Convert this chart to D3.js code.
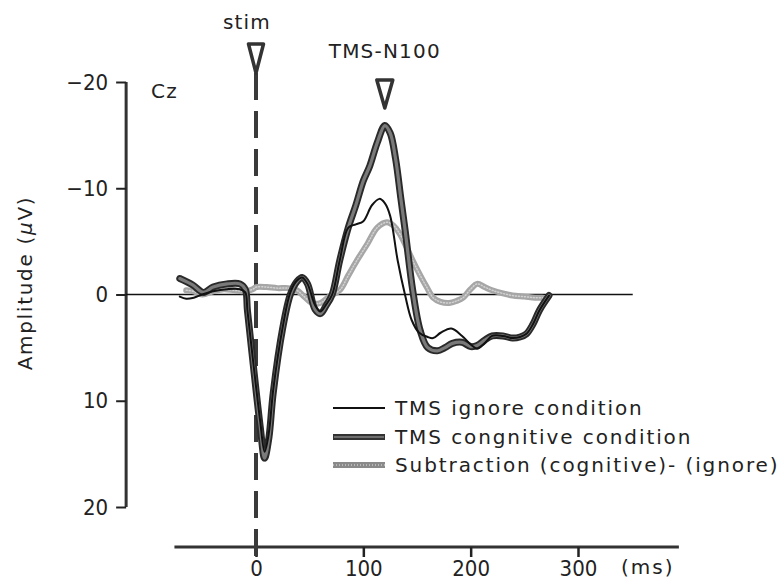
<!DOCTYPE html>
<html>
<head>
<meta charset="utf-8">
<script src="https://cdn.jsdelivr.net/npm/d3@7"></script>
<style>
  body { margin: 0; background: #fff; }
  svg text { fill: #222; }
  .num { font-family: "Liberation Sans Narrow", "DejaVu Sans Condensed", sans-serif; font-size: 22px; }
  .lbl { font-family: "DejaVu Sans", "Liberation Sans", sans-serif; font-size: 20px; letter-spacing: 1.2px; }
  .leg { letter-spacing: 1.9px; }
</style>
</head>
<body>
<div id="chart"></div>
<script>
// time in ms, amplitude in microvolts (negative drawn upward)
const cognitiveTime = [-71, -59, -49, -40, -27, -15, -10, -8, -3, 4, 8, 12, 16, 25, 32, 38, 43, 48, 55, 60, 65, 71, 78, 86, 93, 100, 106, 113, 120, 125, 130, 135, 139, 146, 153, 160, 169, 176, 183, 192, 200, 206, 213, 220, 230, 239, 246, 252, 258, 264, 273];
const cognitiveAmp = [-1.5, -0.9, -0.2, -0.7, -1.0, -1.0, -0.5, 1.5, 6.2, 12.5, 15.4, 13.5, 9.3, 3.1, 0, -1.2, -1.6, -1.0, 1.4, 1.8, 1.1, 0, -3.2, -6.3, -8.4, -10.7, -12.1, -14.3, -15.9, -15.2, -12.8, -9.0, -6.0, -0.4, 3.4, 5.0, 5.3, 5.0, 4.6, 4.5, 4.9, 4.8, 4.3, 3.9, 3.9, 4.1, 4.0, 3.7, 2.8, 1.5, 0.1];

const ignoreTime = [-71, -65, -58, -50, -40, -27, -15, -10, -8, -3, 4, 8, 12, 16, 25, 32, 38, 43, 48, 55, 60, 65, 71, 78, 86, 93, 100, 108, 115, 120, 125, 132, 139, 145, 152, 160, 165, 172, 182, 192, 200, 206, 213, 220, 230, 239, 246, 252, 258, 264, 273];
const ignoreAmp = [0.2, 0.4, 0.3, 0.0, -0.3, -0.5, -0.5, -0.2, 1.5, 6.0, 12.0, 14.8, 13.0, 9.0, 3.0, -0.2, -1.3, -1.6, -1.0, 1.0, 1.6, 1.0, 0, -3.2, -6.3, -6.6, -6.9, -8.4, -9.0, -8.6, -7.4, -3.2, 0.1, 2.4, 3.6, 4.0, 4.1, 3.6, 3.2, 3.9, 4.7, 5.1, 4.6, 3.9, 3.9, 4.1, 4.0, 3.7, 2.8, 1.5, 0.1];

const subtractionTime = [-65, -58, -50, -40, -30, -20, -10, -3, 0, 10, 20, 30, 38, 45, 52, 60, 68, 78, 86, 94, 104, 113, 122, 128, 134, 140, 146, 153, 159, 165, 172, 180, 187, 193, 200, 206, 213, 220, 230, 239, 250, 260, 267];
const subtractionAmp = [-0.4, -0.3, 0, -0.3, -0.5, -0.4, -0.3, -0.5, -0.7, -0.7, -0.6, -0.6, -0.4, 0.2, 0.8, 0.8, 0.2, -0.4, -1.8, -3.2, -4.8, -6.3, -6.8, -6.5, -5.7, -4.5, -3.2, -1.8, -0.7, 0.3, 0.7, 0.8, 0.6, 0.3, -0.5, -1.0, -0.7, -0.4, -0.1, 0.1, 0.2, 0.3, 0.3];

const yTicks = [-20, -10, 0, 10, 20];
const xTicks = [0, 100, 200, 300];
const legendLabels = ["TMS ignore condition", "TMS congnitive condition", "Subtraction (cognitive)- (ignore)"];

const width = 784, height = 585;

const svg = d3.select("#chart").append("svg")
    .attr("width", width)
    .attr("height", height);

const x = d3.scaleLinear().domain([0, 300]).range([256, 578]);
const y = d3.scaleLinear().domain([-20, 20]).range([82, 507]);

const zip = (ts, vs) => ts.map((t, i) => ({ t, v: vs[i] }));

const line = d3.line()
    .curve(d3.curveCatmullRom.alpha(0.5))
    .x(d => x(d.t))
    .y(d => y(d.v));

// y axis
const yAxis = svg.append("g")
    .attr("transform", `translate(${x(-121)},0)`)
    .call(d3.axisLeft(y).tickValues(yTicks).tickSize(10).tickPadding(8)
        .tickFormat(d => d < 0 ? "\u2212" + Math.abs(d) : d));
yAxis.select(".domain").attr("stroke", "#333").attr("stroke-width", 3)
    .attr("d", `M0,${y(-20)}V${y(20)}`);
yAxis.selectAll(".tick line").attr("stroke", "#222").attr("stroke-width", 2);
yAxis.selectAll(".tick text").attr("class", "num").attr("fill", "#222");

// zero line
svg.append("line")
    .attr("x1", x(-121)).attr("x2", x(351))
    .attr("y1", y(0)).attr("y2", y(0))
    .attr("stroke", "#111").attr("stroke-width", 1.6);

// x axis (drawn separately below the plot)
const xAxis = svg.append("g")
    .attr("transform", "translate(0,547)")
    .call(d3.axisBottom(x).tickValues(xTicks).tickSize(10).tickPadding(3));
xAxis.select(".domain").attr("stroke", "#333").attr("stroke-width", 3)
    .attr("d", `M${x(-76)},0H${x(394)}`);
xAxis.selectAll(".tick line").attr("stroke", "#222").attr("stroke-width", 2.5);
xAxis.selectAll(".tick text").attr("class", "num").attr("fill", "#222");

svg.append("text").attr("class", "lbl")
    .attr("x", 621).attr("y", 574)
    .style("letter-spacing", "2px")
    .text("(ms)");

// y label
svg.append("text").attr("class", "lbl")
    .attr("transform", `translate(32,283) rotate(-90)`)
    .attr("text-anchor", "middle")
    .style("letter-spacing", "1.7px")
    .html('Amplitude (<tspan font-style="italic">μ</tspan>V)');

svg.append("text").attr("class", "lbl")
    .attr("x", 151).attr("y", 98)
    .text("Cz");

// stim marker
svg.append("line")
    .attr("x1", x(0)).attr("x2", x(0))
    .attr("y1", 73).attr("y2", 560)
    .attr("stroke", "#3a3a3a").attr("stroke-width", 4)
    .attr("stroke-dasharray", "27,11");

const triangle = (cx, top, w, h) => `M${cx - w / 2},${top}L${cx + w / 2},${top}L${cx},${top + h}Z`;

svg.append("path")
    .attr("d", triangle(x(0), 44, 15, 29))
    .attr("fill", "#fff").attr("stroke", "#333").attr("stroke-width", 3.5)
    .attr("stroke-linejoin", "round");
svg.append("text").attr("class", "lbl")
    .attr("x", 247).attr("y", 29)
    .attr("text-anchor", "middle")
    .text("stim");

svg.append("path")
    .attr("d", triangle(x(120), 80, 16, 28))
    .attr("fill", "#fff").attr("stroke", "#333").attr("stroke-width", 3.5)
    .attr("stroke-linejoin", "round");
svg.append("text").attr("class", "lbl")
    .attr("x", x(120)).attr("y", 58)
    .attr("text-anchor", "middle")
    .text("TMS-N100");

// curves
const plot = svg.append("g").attr("fill", "none").attr("stroke-linejoin", "round").attr("stroke-linecap", "round");

plot.append("path")
    .attr("d", line(zip(subtractionTime, subtractionAmp)))
    .attr("stroke", "#a6a6a6").attr("stroke-width", 6);
plot.append("path")
    .attr("d", line(zip(subtractionTime, subtractionAmp)))
    .attr("stroke", "#d2d2d2").attr("stroke-width", 1.5)
    .attr("stroke-dasharray", "1,2");

plot.append("path")
    .attr("d", line(zip(cognitiveTime, cognitiveAmp)))
    .attr("stroke", "#2a2a2a").attr("stroke-width", 7);
plot.append("path")
    .attr("d", line(zip(cognitiveTime, cognitiveAmp)))
    .attr("stroke", "#7a7a7a").attr("stroke-width", 3.2);

plot.append("path")
    .attr("d", line(zip(ignoreTime, ignoreAmp)))
    .attr("stroke", "#111").attr("stroke-width", 2);

// legend
const legend = svg.append("g").attr("transform", "translate(333,408)");
const rows = legend.selectAll("g").data(legendLabels).join("g")
    .attr("transform", (d, i) => `translate(0,${[0, 29, 57][i]})`);

rows.filter((d, i) => i === 0).append("line")
    .attr("x1", 0).attr("x2", 52).attr("stroke", "#111").attr("stroke-width", 2);
rows.filter((d, i) => i === 1).append("line")
    .attr("x1", 0).attr("x2", 52).attr("stroke", "#333").attr("stroke-width", 6);
rows.filter((d, i) => i === 1).append("line")
    .attr("x1", 1).attr("x2", 51).attr("stroke", "#6e6e6e").attr("stroke-width", 2);
rows.filter((d, i) => i === 2).append("line")
    .attr("x1", 0).attr("x2", 52).attr("stroke", "#8a8a8a").attr("stroke-width", 6);
rows.filter((d, i) => i === 2).append("line")
    .attr("x1", 0).attr("x2", 52).attr("stroke", "#c8c8c8").attr("stroke-width", 1.5)
    .attr("stroke-dasharray", "1,2");

rows.append("text").attr("class", "lbl leg")
    .attr("x", 62).attr("y", 0).attr("dy", "0.35em")
    .text(d => d);
</script>
</body>
</html>
